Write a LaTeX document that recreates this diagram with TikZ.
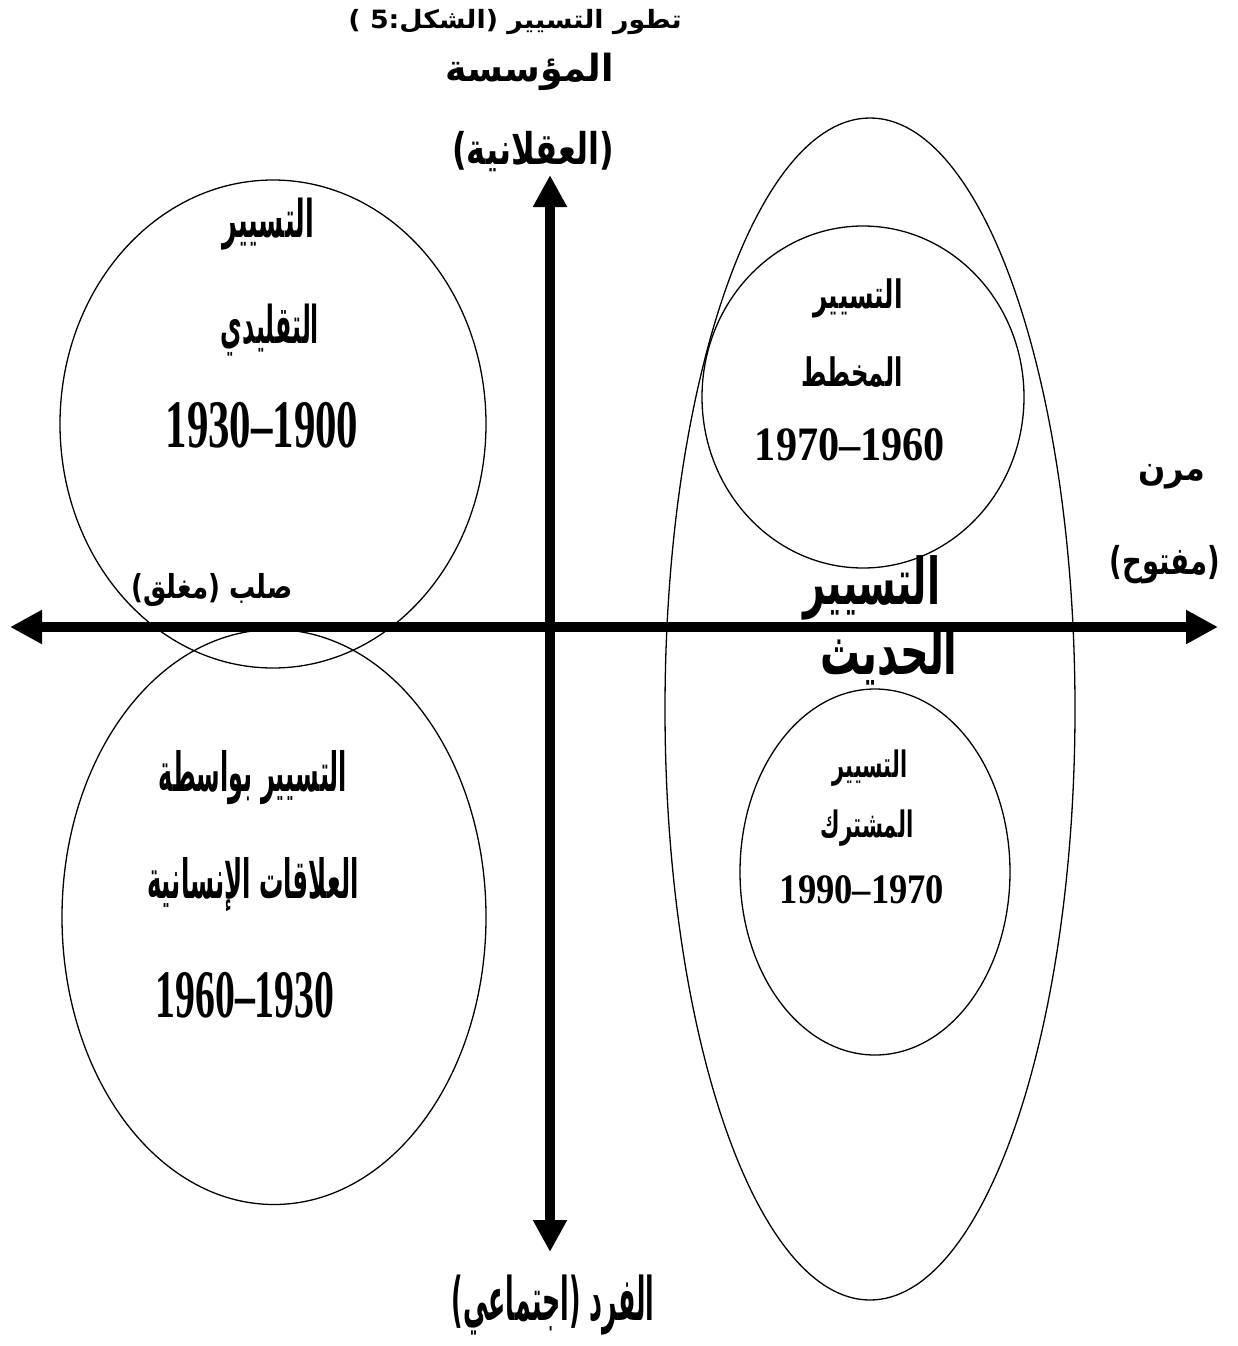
\documentclass[tikz,border=0pt]{standalone}
\usepackage{fontspec}
\usepackage{graphicx}
\usetikzlibrary{arrows.meta,shapes.geometric}
\TeXXeTstate=1
\newfontfamily\arabicfont[Script=Arabic]{DejaVu Sans}
\newfontfamily\numfont{Liberation Serif}
\newcommand\arb[4]{\scalebox{#2}[#3]{\fontsize{#1}{#1}\selectfont\arabicfont\bfseries #4}}
\newcommand\yrtxt[3]{\scalebox{#2}[1]{\fontsize{#1}{#1}\selectfont\numfont\bfseries #3}}
\tikzset{
  ell/.style={draw, ellipse, inner sep=0pt, line width=1.3pt},
  axisline/.style={line width=10pt, {Triangle[length=32pt,width=32pt]}-{Triangle[length=32pt,width=32pt]}},
  lbl/.style={inner sep=0pt, anchor=center}
}
\begin{document}
\begin{tikzpicture}[x=1pt,y=-1pt]
\useasboundingbox[fill=white] (0,0) rectangle (1238,1346);
% ellipses
\node[ell, minimum width=426pt, minimum height=488pt] (tl) at (273,424) {};
\node[ell, minimum width=424pt, minimum height=575pt] (bl) at (274,917) {};
\node[ell, minimum width=410pt, minimum height=1182pt] (big) at (870,709) {};
\node[ell, minimum width=322pt, minimum height=342pt] (ur) at (863,397) {};
\node[ell, minimum width=270pt, minimum height=366pt] (lr) at (875,872) {};
% axes
\coordinate (L) at (10,627);
\coordinate (R) at (1218,627);
\coordinate (T) at (550,175);
\coordinate (B) at (550,1252);
\draw[axisline] (L) -- (R);
\draw[axisline] (T) -- (B);
% top labels
\node[lbl] (title) at (515,22) {\arb{24}{1.12}{1.05}{\beginR تطور التسيير (الشكل:5 )\endR}};
\node[lbl] (org) at (530,72) {\arb{34}{1.07}{1.1}{\beginR المؤسسة\endR}};
\node[lbl] (rat) at (533,152) {\arb{38}{0.84}{1.15}{\beginR (العقلانية)\endR}};
% top-left
\node[lbl] (tl1) at (268,224) {\arb{40}{0.64}{1.3}{\beginR التسيير\endR}};
\node[lbl] (tl2) at (270,330) {\arb{40}{0.59}{1.3}{\beginR التقليدي\endR}};
\node[lbl] (tl3) at (262,425) {\yrtxt{68}{0.63}{1930–1900}};
\node[lbl] (rigid) at (212,590) {\arb{30}{0.87}{1.1}{\beginR صلب (مغلق)\endR}};
% upper right
\node[lbl] (ur1) at (858,298) {\arb{28}{0.89}{1.4}{\beginR التسيير\endR}};
\node[lbl] (ur2) at (852,372) {\arb{28}{0.87}{1.4}{\beginR المخطط\endR}};
\node[lbl] (ur3) at (850,445) {\yrtxt{48}{0.88}{1970–1960}};
% modern
\node[lbl] (mod1) at (872,588) {\arb{56}{0.68}{1.15}{\beginR التسيير\endR}};
\node[lbl] (mod2) at (889,655) {\arb{56}{0.71}{1.15}{\beginR الحديث\endR}};
% flexible
\node[lbl] (flex1) at (1172,477) {\arb{32}{1}{1.1}{\beginR مرن\endR}};
\node[lbl] (flex2) at (1165,565) {\arb{32}{0.86}{1.2}{\beginR (مفتوح)\endR}};
% lower right
\node[lbl] (lr1) at (870,768) {\arb{26}{0.8}{1.4}{\beginR التسيير\endR}};
\node[lbl] (lr2) at (867,828) {\arb{26}{0.82}{1.4}{\beginR المشترك\endR}};
\node[lbl] (lr3) at (862,890) {\yrtxt{42}{0.87}{1990–1970}};
% bottom left
\node[lbl] (bl1) at (253,778) {\arb{40}{0.6}{1.35}{\beginR التسيير بواسطة\endR}};
\node[lbl] (bl2) at (253,885) {\arb{40}{0.61}{1.35}{\beginR العلاقات الإنسانية\endR}};
\node[lbl] (bl3) at (245,995) {\yrtxt{68}{0.585}{1960–1930}};
% bottom
\node[lbl] (ind) at (553,1305) {\arb{40}{0.63}{1.5}{\beginR الفرد (اجتماعي)\endR}};
\end{tikzpicture}
\end{document}
